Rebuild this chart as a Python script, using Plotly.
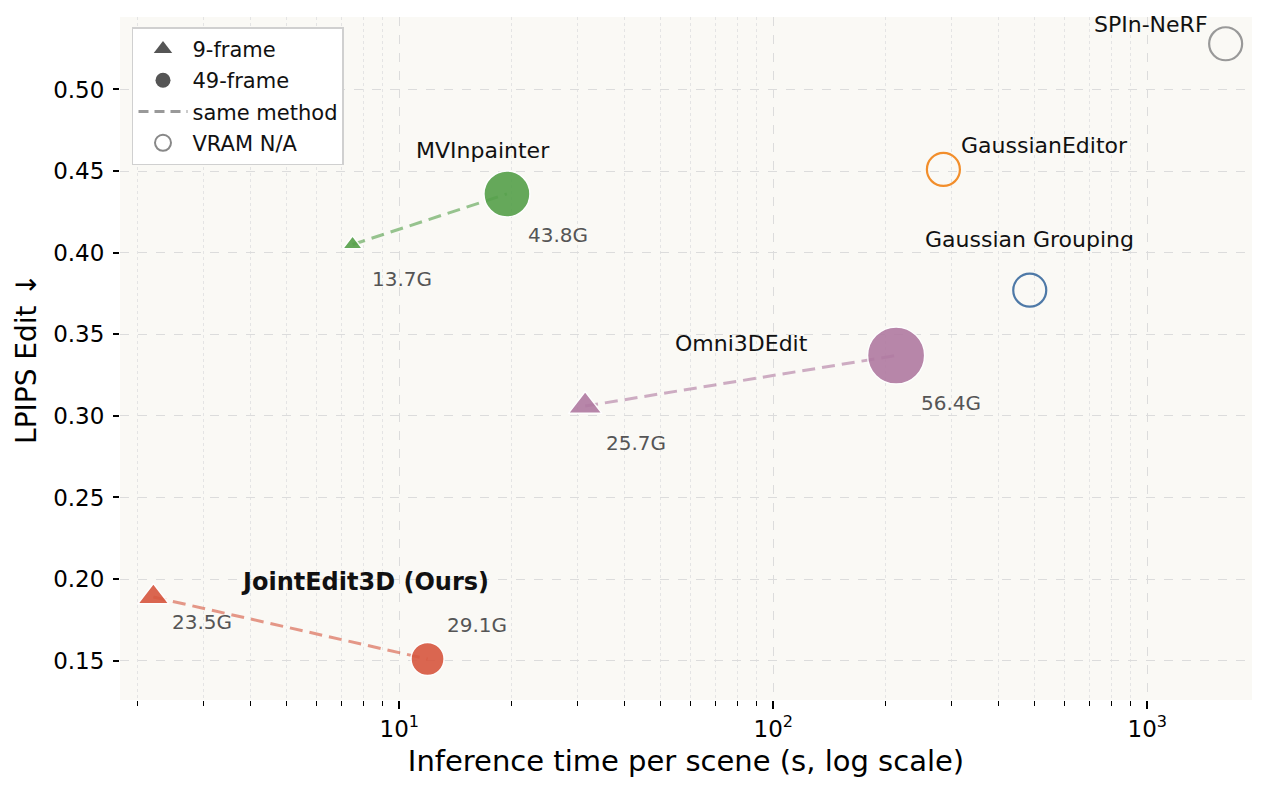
import math
import plotly.graph_objects as go

# ---- data ----
methods = ["JointEdit3D (Ours)", "MVInpainter", "Omni3DEdit"]
colors = ["#d7573f", "#55a04a", "#b07aa1"]
t9 = [2.2, 7.5, 31.4]
l9 = [0.189, 0.405, 0.306]
v9 = [23.5, 13.7, 25.7]
t49 = [11.9, 19.4, 213]
l49 = [0.151, 0.436, 0.337]
v49 = [29.1, 43.8, 56.4]

na_methods = ["GaussianEditor", "Gaussian Grouping", "SPIn-NeRF"]
na_colors = ["#f28e2b", "#4e79a7", "#999999"]
na_t = [285, 485, 1620]
na_l = [0.451, 0.377, 0.528]

xtick_vals = [10, 100, 1000]
xtick_text = ["10<sup>1</sup>", "10<sup>2</sup>", "10<sup>3</sup>"]
xminor_vals = [m * d for d in (1, 10, 100) for m in range(2, 10)]

FONT = "DejaVu Sans"

# label offsets (px) : name offset from 49-frame point, values offsets
name_off = [(-63, 77), (-24, 43), (-155, 12)]
v9_off = [(49, -25), (49, -34), (51, -37)]
v49_off = [(49, 34), (51, -41), (55, -48)]
na_off = [(101, 24), (0, 51), (-75, 19)]

fig = go.Figure()

# dashed connectors
for i in range(len(methods)):
    fig.add_trace(go.Scatter(
        x=[t9[i], t49[i]], y=[l9[i], l49[i]], mode="lines",
        line=dict(color=colors[i], width=3, dash="13px,7px"),
        opacity=0.6, showlegend=False, hoverinfo="skip"))

# markers
for i in range(len(methods)):
    fig.add_trace(go.Scatter(
        x=[t9[i]], y=[l9[i]], mode="markers",
        marker=dict(symbol="triangle-up", size=3.5 + v9[i], color=colors[i],
                    line=dict(color="white", width=1.5)),
        opacity=0.9, showlegend=False))
    fig.add_trace(go.Scatter(
        x=[t49[i]], y=[l49[i]], mode="markers",
        marker=dict(symbol="circle", size=7.5 + 0.88 * v49[i], color=colors[i],
                    line=dict(color="white", width=1.5)),
        opacity=0.9, showlegend=False))

for i in range(len(na_methods)):
    fig.add_trace(go.Scatter(
        x=[na_t[i]], y=[na_l[i]], mode="markers",
        marker=dict(symbol="circle-open", size=33, color=na_colors[i],
                    line=dict(color=na_colors[i], width=2.2)),
        showlegend=False))

# legend entries
fig.add_trace(go.Scatter(x=[None], y=[None], mode="markers", name="9-frame",
                         legendgroup="a",
                         marker=dict(symbol="triangle-up", size=16, color="#555555")))
fig.add_trace(go.Scatter(x=[None], y=[None], mode="markers", name="49-frame",
                         legendgroup="b",
                         marker=dict(symbol="circle", size=15, color="#555555")))
fig.add_trace(go.Scatter(x=[None], y=[None], mode="lines", name="same method",
                         legendgroup="c",
                         line=dict(color="#999999", width=3, dash="10px,6px")))
fig.add_trace(go.Scatter(x=[None], y=[None], mode="markers", name="VRAM N/A",
                         legendgroup="d",
                         marker=dict(symbol="circle-open", size=16, color="#888888",
                                     line=dict(color="#888888", width=2))))

# annotations (log axis: annotation x in log10 units)
for i, m in enumerate(methods):
    bold = i == 0
    fig.add_annotation(x=math.log10(t49[i]), y=l49[i], xref="x", yref="y",
                       text=("<b>%s</b>" % m) if bold else m, showarrow=False,
                       xshift=name_off[i][0], yshift=name_off[i][1],
                       font=dict(family=FONT, size=24 if bold else 22,
                                 color="#111111"))
    fig.add_annotation(x=math.log10(t9[i]), y=l9[i], text="%.1fG" % v9[i],
                       showarrow=False,
                       xshift=v9_off[i][0], yshift=v9_off[i][1],
                       font=dict(family=FONT, size=20, color="#555555"))
    fig.add_annotation(x=math.log10(t49[i]), y=l49[i], text="%.1fG" % v49[i],
                       showarrow=False,
                       xshift=v49_off[i][0], yshift=v49_off[i][1],
                       font=dict(family=FONT, size=20, color="#555555"))
for i, m in enumerate(na_methods):
    fig.add_annotation(x=math.log10(na_t[i]), y=na_l[i], text=m, showarrow=False,
                       xshift=na_off[i][0], yshift=na_off[i][1],
                       font=dict(family=FONT, size=22, color="#111111"))

fig.update_layout(
    width=1268, height=795,
    margin=dict(l=120, r=16, t=17, b=95),
    paper_bgcolor="white", plot_bgcolor="#faf9f5",
    font=dict(family=FONT, size=22, color="black"),
    legend=dict(x=0.0106, y=0.985, xanchor="left", yanchor="top",
                bgcolor="white", bordercolor="#d0d0d0", borderwidth=1.5,
                font=dict(family=FONT, size=21, color="#111111"),
                tracegroupgap=1, itemwidth=49),
    xaxis=dict(type="log", range=[0.2532, 3.280],
               tickmode="array", tickvals=xtick_vals, ticktext=xtick_text,
               ticks="outside", ticklen=8, tickwidth=1.5, tickcolor="black",
               showgrid=True, gridcolor="#dcdcdc", griddash="dash", gridwidth=1,
               showline=False, zeroline=False,
               tickfont=dict(family=FONT, size=23, color="black"),
               minor=dict(tickmode="array", tickvals=xminor_vals, ticks="outside",
                          ticklen=4.5, tickwidth=1.2, tickcolor="black",
                          showgrid=True, gridcolor="#e4e4e4", griddash="dot",
                          gridwidth=1),
               title=dict(text="Inference time per scene (s, log scale)",
                          font=dict(family=FONT, size=29, color="black"),
                          standoff=10)),
    yaxis=dict(range=[0.1259, 0.5444], tick0=0, dtick=0.05, tickformat=".2f",
               ticks="outside", ticklen=6, tickwidth=1.5, tickcolor="black",
               showgrid=True, gridcolor="#dcdcdc", griddash="dash", gridwidth=1,
               showline=False, zeroline=False,
               tickfont=dict(family=FONT, size=23, color="black"),
               ticklabelstandoff=4,
               title=dict(text="LPIPS Edit ↓",
                          font=dict(family=FONT, size=28, color="black"),
                          standoff=8)),
)

fig.write_html("out.html")
